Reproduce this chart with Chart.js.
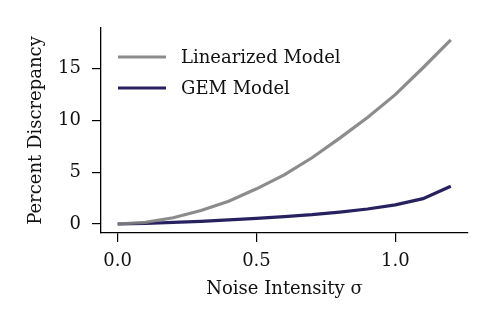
<!DOCTYPE html>
<html>
<head>
<meta charset="utf-8">
<script src="https://cdn.jsdelivr.net/npm/chart.js@4.4.1/dist/chart.umd.min.js"></script>
<style>
  html, body { margin: 0; padding: 0; background: #fff; }
  #wrap { width: 497px; height: 332px; }
</style>
</head>
<body>
<div id="wrap"><canvas id="myChart" width="497" height="332"></canvas></div>
<script>
// Noise intensity values (x axis)
const sigma = [0, 0.1, 0.2, 0.3, 0.4, 0.5, 0.6, 0.7, 0.8, 0.9, 1.0, 1.1, 1.2];

// Percent discrepancy
const linearized = [0, 0.15, 0.6, 1.3, 2.2, 3.4, 4.75, 6.4, 8.3, 10.3, 12.5, 15.1, 17.8];
const gem = [0, 0.05, 0.15, 0.25, 0.4, 0.55, 0.72, 0.9, 1.15, 1.45, 1.85, 2.45, 3.65];

const xTicks = [0, 0.5, 1.0];
const yTicks = [0, 5, 10, 15];

const seriesNames = ['Linearized Model', 'GEM Model'];
const seriesColors = ['rgba(128,128,128,0.9)', '#27225f'];

const serif = '"DejaVu Serif", "Liberation Serif", serif';
const fontSize = 18;

const ctx = document.getElementById('myChart').getContext('2d');

// legend drawn inside the plot area, top left
const innerLegend = {
    id: 'innerLegend',
    afterDraw(chart) {
        const c = chart.ctx;
        const area = chart.chartArea;
        c.save();
        c.font = fontSize + 'px ' + serif;
        c.textBaseline = 'middle';
        chart.data.datasets.forEach((ds, i) => {
            const y = area.top + 29 + i * 31;
            c.strokeStyle = ds.borderColor;
            c.lineWidth = 3.2;
            c.beginPath();
            c.moveTo(area.left + 17, y);
            c.lineTo(area.left + 65, y);
            c.stroke();
            c.fillStyle = '#111';
            c.fillText(ds.label, area.left + 80, y + 1);
        });
        c.restore();
    }
};

new Chart(ctx, {
    type: 'line',
    data: {
        datasets: [
            {
                label: seriesNames[0],
                data: sigma.map((s, i) => ({ x: s, y: linearized[i] })),
                borderColor: seriesColors[0],
                borderWidth: 3.2,
                pointRadius: 0,
                tension: 0
            },
            {
                label: seriesNames[1],
                data: sigma.map((s, i) => ({ x: s, y: gem[i] })),
                borderColor: seriesColors[1],
                borderWidth: 3.2,
                pointRadius: 0,
                tension: 0
            }
        ]
    },
    plugins: [innerLegend],
    options: {
        responsive: false,
        animation: false,
        layout: { padding: { top: 28, right: 29, left: 0, bottom: 0 } },
        scales: {
            x: {
                type: 'linear',
                min: -0.06,
                max: 1.262,
                afterBuildTicks: axis => { axis.ticks = xTicks.map(v => ({ value: v })); },
                afterFit: axis => { axis.height = 99; },
                ticks: {
                    callback: v => v.toFixed(1),
                    color: '#111',
                    font: { family: serif, size: fontSize },
                    padding: 9,
                    maxRotation: 0
                },
                grid: { drawOnChartArea: false, drawTicks: true, tickLength: 9, color: '#000', lineWidth: 1.2 },
                border: { display: true, color: '#000', width: 1.3 },
                title: {
                    display: true,
                    text: 'Noise Intensity σ',
                    color: '#111',
                    font: { family: serif, size: fontSize },
                    padding: { top: 4, bottom: 32 }
                }
            },
            y: {
                min: -0.87,
                max: 18.94,
                afterBuildTicks: axis => { axis.ticks = yTicks.map(v => ({ value: v })); },
                afterFit: axis => { axis.width = 101; },
                ticks: {
                    color: '#111',
                    font: { family: serif, size: fontSize },
                    padding: 11
                },
                grid: { drawOnChartArea: false, drawTicks: true, tickLength: 9, color: '#000', lineWidth: 1.2 },
                border: { display: true, color: '#000', width: 1.3 },
                title: {
                    display: true,
                    text: 'Percent Discrepancy',
                    color: '#111',
                    font: { family: serif, size: fontSize },
                    padding: { top: 26, bottom: 0 }
                }
            }
        },
        plugins: {
            legend: { display: false },
            tooltip: { enabled: false }
        }
    }
});
</script>
</body>
</html>
